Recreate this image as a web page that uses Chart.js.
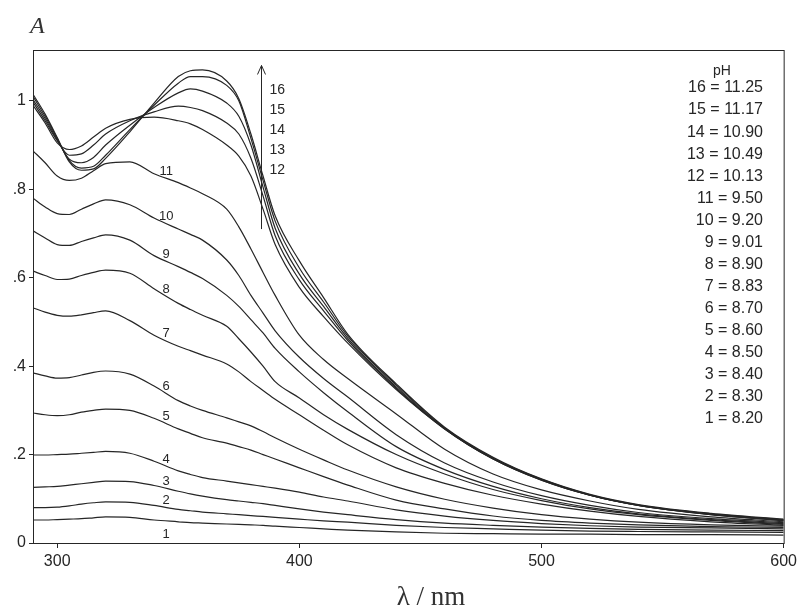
<!DOCTYPE html>
<html>
<head>
<meta charset="utf-8">
<title>Absorption spectra vs pH</title>
<script src="https://cdn.jsdelivr.net/npm/chart.js@4.4.1/dist/chart.umd.min.js"></script>
<style>
    html, body { margin: 0; padding: 0; background: #fff; }
    #wrap { width: 801px; height: 612px; }
</style>
</head>
<body>
<div id="wrap"><canvas id="spectraChart" width="801" height="612"></canvas></div>
<script>
// Wavelength grid (nm)
const wavelengths = [290, 295, 300, 305, 310, 315, 320, 330, 340, 350, 355, 360, 370, 375, 380, 385, 390, 400, 410, 420, 440, 460, 480, 500, 520, 540, 570, 600];

// Absorbance of each spectrum, numbered as in the plot
const A1  = [0.052, 0.052, 0.053, 0.054, 0.055, 0.057, 0.059, 0.058, 0.052, 0.048, 0.046, 0.045, 0.043, 0.042, 0.041, 0.040, 0.038, 0.035, 0.032, 0.029, 0.025, 0.022, 0.021, 0.020, 0.020, 0.019, 0.019, 0.018];
const A2  = [0.080, 0.080, 0.081, 0.084, 0.088, 0.091, 0.093, 0.092, 0.085, 0.076, 0.073, 0.070, 0.066, 0.064, 0.062, 0.060, 0.058, 0.054, 0.050, 0.047, 0.040, 0.035, 0.032, 0.029, 0.027, 0.026, 0.025, 0.024];
const A3  = [0.126, 0.127, 0.128, 0.131, 0.134, 0.137, 0.140, 0.139, 0.130, 0.117, 0.111, 0.106, 0.098, 0.095, 0.092, 0.089, 0.085, 0.077, 0.070, 0.064, 0.053, 0.045, 0.040, 0.036, 0.033, 0.031, 0.029, 0.028];
const A4  = [0.199, 0.199, 0.200, 0.201, 0.203, 0.205, 0.207, 0.203, 0.185, 0.163, 0.155, 0.148, 0.140, 0.136, 0.132, 0.128, 0.124, 0.115, 0.104, 0.095, 0.075, 0.061, 0.051, 0.044, 0.039, 0.036, 0.034, 0.032];
const A5  = [0.294, 0.290, 0.288, 0.290, 0.296, 0.300, 0.303, 0.300, 0.282, 0.258, 0.248, 0.238, 0.226, 0.218, 0.210, 0.200, 0.190, 0.170, 0.150, 0.131, 0.097, 0.077, 0.061, 0.051, 0.045, 0.041, 0.037, 0.035];
const A6  = [0.385, 0.378, 0.373, 0.374, 0.380, 0.386, 0.389, 0.382, 0.355, 0.322, 0.310, 0.300, 0.283, 0.274, 0.265, 0.252, 0.238, 0.212, 0.188, 0.165, 0.127, 0.099, 0.079, 0.064, 0.054, 0.047, 0.041, 0.038];
const A7  = [0.532, 0.522, 0.515, 0.513, 0.516, 0.521, 0.525, 0.503, 0.470, 0.445, 0.435, 0.425, 0.405, 0.387, 0.365, 0.345, 0.325, 0.290, 0.255, 0.222, 0.170, 0.135, 0.108, 0.088, 0.072, 0.060, 0.048, 0.040];
const A8  = [0.615, 0.605, 0.596, 0.597, 0.605, 0.612, 0.617, 0.610, 0.575, 0.542, 0.528, 0.515, 0.490, 0.462, 0.432, 0.400, 0.365, 0.328, 0.290, 0.257, 0.200, 0.156, 0.121, 0.096, 0.077, 0.064, 0.051, 0.042];
const A9  = [0.706, 0.690, 0.675, 0.673, 0.682, 0.690, 0.697, 0.685, 0.650, 0.625, 0.612, 0.598, 0.560, 0.535, 0.505, 0.475, 0.440, 0.387, 0.340, 0.297, 0.218, 0.166, 0.128, 0.100, 0.080, 0.066, 0.053, 0.044];
const A10 = [0.780, 0.760, 0.745, 0.743, 0.755, 0.767, 0.776, 0.765, 0.735, 0.710, 0.698, 0.685, 0.640, 0.605, 0.560, 0.520, 0.480, 0.420, 0.372, 0.330, 0.245, 0.181, 0.138, 0.107, 0.085, 0.069, 0.055, 0.046];
const A11 = [0.887, 0.860, 0.830, 0.820, 0.825, 0.842, 0.858, 0.862, 0.835, 0.815, 0.803, 0.790, 0.755, 0.715, 0.665, 0.612, 0.560, 0.470, 0.415, 0.372, 0.292, 0.212, 0.156, 0.120, 0.095, 0.076, 0.059, 0.048];
const A12 = [0.990, 0.950, 0.905, 0.890, 0.898, 0.918, 0.938, 0.958, 0.963, 0.955, 0.948, 0.935, 0.900, 0.875, 0.830, 0.755, 0.675, 0.578, 0.512, 0.452, 0.347, 0.258, 0.190, 0.142, 0.108, 0.085, 0.064, 0.050];
const A13 = [0.997, 0.955, 0.910, 0.877, 0.880, 0.900, 0.925, 0.955, 0.975, 0.988, 0.985, 0.978, 0.950, 0.925, 0.870, 0.785, 0.695, 0.595, 0.525, 0.458, 0.350, 0.258, 0.190, 0.142, 0.108, 0.085, 0.064, 0.051];
const A14 = [1.003, 0.960, 0.912, 0.868, 0.860, 0.872, 0.900, 0.945, 0.985, 1.018, 1.027, 1.022, 0.995, 0.965, 0.900, 0.805, 0.712, 0.608, 0.535, 0.463, 0.353, 0.259, 0.191, 0.143, 0.108, 0.085, 0.065, 0.052];
const A15 = [1.010, 0.965, 0.915, 0.865, 0.848, 0.852, 0.877, 0.935, 0.990, 1.040, 1.055, 1.055, 1.035, 1.000, 0.915, 0.820, 0.728, 0.622, 0.545, 0.468, 0.357, 0.260, 0.192, 0.144, 0.109, 0.086, 0.066, 0.053];
const A16 = [1.015, 0.970, 0.917, 0.862, 0.843, 0.846, 0.870, 0.930, 0.995, 1.055, 1.068, 1.070, 1.045, 1.005, 0.925, 0.830, 0.740, 0.638, 0.555, 0.472, 0.360, 0.262, 0.194, 0.145, 0.110, 0.087, 0.067, 0.054];

const spectra = [A1, A2, A3, A4, A5, A6, A7, A8, A9, A10, A11, A12, A13, A14, A15, A16];
const curveIds = [1, 2, 3, 4, 5, 6, 7, 8, 9, 10, 11, 12, 13, 14, 15, 16];
const phValues = ['8.20', '8.30', '8.40', '8.50', '8.60', '8.70', '8.83', '8.90', '9.01', '9.20', '9.50', '10.13', '10.49', '10.90', '11.17', '11.25'];

// Axis ticks
const xTicks = [300, 400, 500, 600];
const yTicks = [0, 0.2, 0.4, 0.6, 0.8, 1];

const INK = '#262626';
const SANS = '"Liberation Sans", Arial, sans-serif';
const SERIF = '"Liberation Serif", "Times New Roman", serif';

// linear interpolation of a spectrum at a given wavelength
function valueAt(series, lambda) {
    for (let i = 1; i < wavelengths.length; i++) {
        if (lambda <= wavelengths[i]) {
            const t = (lambda - wavelengths[i - 1]) / (wavelengths[i] - wavelengths[i - 1]);
            return series[i - 1] + t * (series[i] - series[i - 1]);
        }
    }
    return series[series.length - 1];
}

// Frame, curve numbers, arrow, pH list and axis titles
const decorPlugin = {
    id: 'decor',
    afterDraw(chart) {
        const { ctx, chartArea: a, scales: { x, y } } = chart;
        ctx.save();
        ctx.strokeStyle = INK;
        ctx.lineWidth = 1;
        ctx.strokeRect(a.left + 0.5, a.top + 0.5, a.right - a.left, a.bottom - a.top);

        ctx.fillStyle = INK;
        ctx.textAlign = 'center';
        ctx.textBaseline = 'middle';

        // numbers 1..11 next to their curves
        ctx.font = '13px ' + SANS;
        const labelLambda = 345;
        curveIds.forEach((id, i) => {
            if (id > 11) return;
            const px = x.getPixelForValue(labelLambda);
            const py = y.getPixelForValue(valueAt(spectra[i], labelLambda)) + (id === 1 ? 14 : -7);
            ctx.fillText(String(id), px, py);
        });

        // arrow for curves 12..16
        const ax = Math.round(x.getPixelForValue(384)) + 0.5;
        const aTop = y.getPixelForValue(1.08);
        const aBot = y.getPixelForValue(0.71);
        ctx.beginPath();
        ctx.moveTo(ax, aBot);
        ctx.lineTo(ax, aTop);
        ctx.moveTo(ax - 4, aTop + 9);
        ctx.lineTo(ax, aTop);
        ctx.lineTo(ax + 4, aTop + 9);
        ctx.stroke();
        ctx.font = '14px ' + SANS;
        ctx.textAlign = 'left';
        curveIds.slice(11).reverse().forEach((id, k) => {
            ctx.fillText(String(id), ax + 8, aTop + 25 + k * 19.8);
        });

        // pH list
        ctx.font = '14px ' + SANS;
        ctx.textAlign = 'center';
        ctx.fillText('pH', 722, 71);
        ctx.font = '16px ' + SANS;
        ctx.textAlign = 'right';
        curveIds.slice().reverse().forEach((id, k) => {
            ctx.fillText(id + ' = ' + phValues[id - 1], 763, 88 + k * 22.07);
        });

        // axis titles
        ctx.fillStyle = '#333';
        ctx.font = 'italic 24px ' + SERIF;
        ctx.textAlign = 'left';
        ctx.textBaseline = 'alphabetic';
        ctx.fillText('A', 30, 33);
        ctx.font = '27px ' + SERIF;
        ctx.textAlign = 'center';
        ctx.fillText('\u03bb / nm', 431, 605);
        ctx.restore();
    }
};

const datasets = spectra.map((series, i) => ({
    label: String(curveIds[i]),
    data: wavelengths.map((w, j) => ({ x: w, y: series[j] })),
    borderColor: INK,
    borderWidth: 1.2,
    pointRadius: 0,
    fill: false,
    cubicInterpolationMode: 'monotone'
}));

new Chart(document.getElementById('spectraChart'), {
    type: 'line',
    data: { datasets },
    options: {
        responsive: false,
        animation: false,
        layout: { padding: { top: 50, right: 11, left: 0, bottom: 0 } },
        plugins: { legend: { display: false }, tooltip: { enabled: false } },
        scales: {
            x: {
                type: 'linear',
                min: 290,
                max: 600,
                afterBuildTicks: scale => { scale.ticks = xTicks.map(v => ({ value: v })); },
                afterFit: scale => { scale.height = 69; },
                grid: { drawOnChartArea: false, drawTicks: true, tickLength: 5, color: INK },
                border: { color: INK, width: 1 },
                ticks: { color: INK, font: { family: SANS, size: 16 }, padding: 4, maxRotation: 0 }
            },
            y: {
                min: 0,
                max: 1.115,
                afterBuildTicks: scale => { scale.ticks = yTicks.map(v => ({ value: v })); },
                afterFit: scale => { scale.width = 33; },
                grid: { drawOnChartArea: false, drawTicks: true, tickLength: 4, color: INK },
                border: { color: INK, width: 1 },
                ticks: {
                    color: INK,
                    font: { family: SANS, size: 16 },
                    padding: 3,
                    callback: v => (v === 0 || v === 1) ? String(v) : String(v).replace('0.', '.')
                }
            }
        }
    },
    plugins: [decorPlugin]
});
</script>
</body>
</html>
